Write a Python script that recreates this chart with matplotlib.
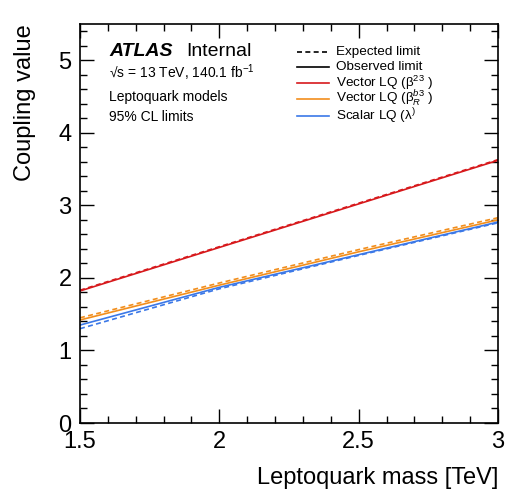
import matplotlib.pyplot as plt
from matplotlib.ticker import MultipleLocator

plt.rcParams['font.family'] = ['Liberation Sans', 'DejaVu Sans']
plt.rcParams['mathtext.fontset'] = 'custom'
plt.rcParams['mathtext.rm'] = 'Liberation Sans'
plt.rcParams['mathtext.it'] = 'Liberation Sans:italic'

# Leptoquark mass [TeV]
mass = [1.5, 2.0, 2.5, 3.0]

# Vector LQ (beta 23)
vec23_obs = [1.82, 2.42, 3.02, 3.62]
vec23_exp = [1.83, 2.43, 3.03, 3.63]

# Vector LQ (beta 33 R)
vec33_obs = [1.42, 1.90, 2.36, 2.80]
vec33_exp = [1.45, 1.93, 2.39, 2.83]

# Scalar LQ (lambda)
scal_obs = [1.35, 1.87, 2.32, 2.77]
scal_exp = [1.30, 1.85, 2.31, 2.76]

red = '#d7191c'
orange = '#f28e1c'
blue = '#3b78e7'

fig = plt.figure(figsize=(5.21, 5.0), dpi=100)
ax = fig.add_axes([80 / 521, 77 / 500, 418 / 521, 399 / 500])

ax.plot(mass, vec23_exp, color=red, lw=1.2, ls=(0, (3, 2)))
ax.plot(mass, vec23_obs, color=red, lw=1.2)
ax.plot(mass, vec33_exp, color=orange, lw=1.2, ls=(0, (3, 2)))
ax.plot(mass, vec33_obs, color=orange, lw=1.2)
ax.plot(mass, scal_exp, color=blue, lw=1.2, ls=(0, (3, 2)))
ax.plot(mass, scal_obs, color=blue, lw=1.2)

ax.set_xlim(1.5, 3.0)
ax.set_ylim(0, 5.5)
ax.xaxis.set_minor_locator(MultipleLocator(0.1))
ax.yaxis.set_major_locator(MultipleLocator(1))
ax.yaxis.set_minor_locator(MultipleLocator(0.2))
ax.set_xticks([1.5, 2, 2.5, 3])
ax.set_xticklabels(['1.5', '2', '2.5', '3'])
ax.tick_params(which='both', direction='in', top=True, right=True,
               labelsize=17, width=1)
ax.tick_params(which='major', length=10, pad=6)
ax.tick_params(which='minor', length=5)
for s in ax.spines.values():
    s.set_linewidth(1.2)

ax.set_xlabel('Leptoquark mass [TeV]', fontsize=17, loc='right', labelpad=10)
ax.set_ylabel('Coupling value', fontsize=17, loc='top', labelpad=16)

# ATLAS label block
ax.text(0.07, 0.932, 'ATLAS', transform=ax.transAxes, fontsize=14,
        fontweight='bold', fontstyle='italic', va='center')
ax.text(0.255, 0.932, 'Internal', transform=ax.transAxes, fontsize=14,
        va='center')
ax.text(0.07, 0.877, r'√s = 13 TeV, 140.1 fb$^{-1}$',
        transform=ax.transAxes, fontsize=10, va='center')
ax.text(0.07, 0.817, 'Leptoquark models', transform=ax.transAxes,
        fontsize=10, va='center')
ax.text(0.07, 0.767, '95% CL limits', transform=ax.transAxes,
        fontsize=10, va='center')

# Legend
labels = ['Expected limit', 'Observed limit',
          r'Vector LQ (β$^{23}$ )', r'Vector LQ (β$^{b3}_{R}$ )',
          r'Scalar LQ (λ$^{)}$']
styles = [('black', (0, (3, 2))), ('black', '-'), (red, '-'),
          (orange, '-'), (blue, '-')]
ys = [0.930, 0.893, 0.852, 0.812, 0.769]
for lab, (c, ls), y in zip(labels, styles, ys):
    ax.plot([0.52, 0.595], [y, y], transform=ax.transAxes, color=c,
            ls=ls, lw=1.2)
    ax.text(0.612, y, lab, transform=ax.transAxes, fontsize=9.7, va='center')

fig.savefig('out.png', dpi=100)
